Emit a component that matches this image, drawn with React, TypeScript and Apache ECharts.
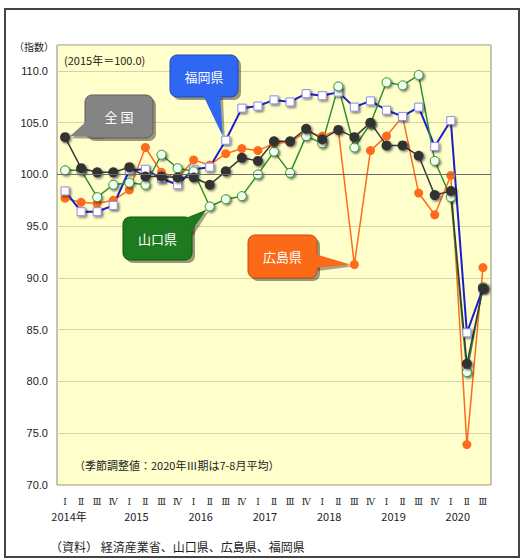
import React, { useEffect, useRef } from "react";
import * as echarts from "echarts";

const years = ["2014年", "2015", "2016", "2017", "2018", "2019", "2020"];
const quarters = ["Ⅰ", "Ⅱ", "Ⅲ", "Ⅳ"];
const quarterCount = 27;

const zenkoku = [103.6, 100.6, 100.2, 100.2, 100.7, 99.8, 99.8, 99.7, 99.7, 99.0, 100.3, 101.6, 101.3, 103.2, 103.2, 104.4, 103.4, 104.3, 103.6, 105.0, 102.8, 102.8, 101.8, 98.0, 98.4, 81.7, 89.0];
const fukuoka = [98.4, 96.4, 96.4, 97.0, 100.4, 100.5, 99.6, 99.0, 100.5, 100.7, 103.3, 106.4, 106.6, 107.2, 107.0, 107.8, 107.6, 107.95, 106.5, 107.1, 106.2, 105.6, 106.5, 102.7, 105.2, 84.7, 89.0];
const yamaguchi = [100.4, 100.4, 97.8, 99.0, 99.2, 99.0, 101.9, 100.6, 100.3, 96.9, 97.6, 97.9, 100.0, 102.2, 100.15, 103.7, 103.0, 108.5, 102.6, 104.9, 108.9, 108.6, 109.6, 101.3, 97.8, 80.9, 89.1];
const hiroshima = [97.7, 97.3, 97.2, 97.5, 98.5, 102.6, 100.2, 99.6, 101.4, 100.9, 102.0, 102.5, 102.3, 103.0, 103.1, 104.1, 103.7, 104.3, 91.3, 102.3, 103.7, 105.6, 98.2, 96.1, 99.9, 73.9, 91.0];

const yTicks = { min: 70, max: 112.5, interval: 5, labelMax: 110 };

const categories: string[] = [];
for (let i = 0; i < quarterCount; i++) {
  categories.push(years[Math.floor(i / 4)] + quarters[i % 4]);
}

const JP = "'Noto Sans CJK JP', 'Noto Sans', sans-serif";

export default function App() {
  const ref = useRef<HTMLDivElement>(null);
  useEffect(() => {
    if (!ref.current) return;
    const chart = echarts.init(ref.current, null, { renderer: "svg" });
    const shadow = {
      shadowBlur: 2,
      shadowColor: "rgba(0,0,0,0.55)",
      shadowOffsetX: 1.5,
      shadowOffsetY: 1.5,
    };
    const option: any = {
      animation: false,
      backgroundColor: "#ffffff",
      grid: {
        left: 57,
        top: 45,
        width: 434,
        height: 440,
        show: true,
        backgroundColor: "#ffffcc",
        borderColor: "#8a8a80",
        borderWidth: 1,
      },
      xAxis: {
        type: "category",
        data: categories,
        boundaryGap: true,
        axisLine: { show: false },
        axisTick: { show: false },
        splitLine: { show: false },
        axisLabel: {
          interval: 0,
          margin: 10,
          formatter: (_v: string, idx: number) => {
            const q = quarters[idx % 4];
            if (idx % 4 === 0) {
              const y = years[Math.floor(idx / 4)];
              return `{r|${q}}\n{${idx === 0 ? "y0" : "y"}|${y}}`;
            }
            return `{r|${q}}`;
          },
          rich: {
            r: { fontSize: 9, fontFamily: "'DejaVu Serif', serif", color: "#222", lineHeight: 14 },
            y: { fontSize: 11, fontFamily: JP, color: "#222", lineHeight: 14, padding: [0, 0, 0, 14] },
            y0: { fontSize: 11, fontFamily: JP, color: "#222", lineHeight: 14, padding: [0, 0, 0, 8] },
          },
        },
      },
      yAxis: {
        type: "value",
        min: yTicks.min,
        max: yTicks.max,
        interval: yTicks.interval,
        axisLine: { show: false },
        axisTick: { show: false },
        axisLabel: {
          fontSize: 11,
          fontFamily: "'Liberation Sans', Arial, sans-serif",
          color: "#222",
          margin: 9,
          showMaxLabel: false,
          formatter: (v: number) => (v > yTicks.labelMax ? "" : v.toFixed(1)),
        },
        splitLine: { show: true, lineStyle: { color: "#d8d3a6", width: 1 } },
      },
      series: [
        {
          name: "広島県",
          type: "line",
          data: hiroshima,
          symbol: "circle",
          symbolSize: 9,
          lineStyle: { color: "#ff6a1c", width: 1.5 },
          itemStyle: { color: "#ff6a1c", borderColor: "#ff6a1c", borderWidth: 0 },
          markLine: {
            silent: true,
            symbol: "none",
            label: { show: false },
            lineStyle: { color: "#6a6a6a", type: "solid", width: 1 },
            data: [{ yAxis: 100 }],
          },
        },
        {
          name: "福岡県",
          type: "line",
          data: fukuoka,
          symbol: "rect",
          symbolSize: 8,
          lineStyle: { color: "#1c1cd2", width: 2 },
          itemStyle: { color: "#ffffff", borderColor: "#8f8fe8", borderWidth: 1, ...shadow },
        },
        {
          name: "山口県",
          type: "line",
          data: yamaguchi,
          symbol: "circle",
          symbolSize: 9,
          lineStyle: { color: "#2f8f2f", width: 1.5 },
          itemStyle: { color: "#effff2", borderColor: "#2f8f2f", borderWidth: 1, ...shadow },
        },
        {
          name: "全国",
          type: "line",
          data: zenkoku,
          symbol: "circle",
          symbolSize: 10,
          lineStyle: { color: "#3a3a3a", width: 1.5 },
          itemStyle: { color: "#333333", borderColor: "#333333", borderWidth: 0, ...shadow },
        },
      ],
    };
    chart.setOption(option);

    const px = (idx: number, v: number) =>
      chart.convertToPixel({ gridIndex: 0 }, [idx, v]) as number[];

    const callout = (
      x: number, y: number, w: number, h: number,
      fill: string, stroke: string, label: string,
      b1: number[], b2: number[], tip: number[]
    ) => ({
      type: "group",
      z: 100,
      children: [
        {
          type: "polygon",
          shape: { points: [[b1[0] + 3, b1[1] + 3], [b2[0] + 3, b2[1] + 3], [tip[0] + 2, tip[1] + 2]] },
          style: { fill: "rgba(0,0,0,0.35)" },
        },
        {
          type: "rect",
          shape: { x: x + 3, y: y + 3, width: w, height: h, r: 7 },
          style: { fill: "rgba(0,0,0,0.4)" },
        },
        {
          type: "rect",
          shape: { x, y, width: w, height: h, r: 7 },
          style: { fill, stroke, lineWidth: 1 },
        },
        {
          type: "polygon",
          shape: { points: [b1, b2, tip] },
          style: { fill },
        },
        {
          type: "text",
          x: x + w / 2,
          y: y + h / 2,
          style: {
            text: label,
            fill: "#ffffff",
            font: `13px ${JP}`,
            align: "center",
            verticalAlign: "middle",
          },
        },
      ],
    });

    const pZ = px(0, zenkoku[0]);
    const pF = px(10, fukuoka[10]);
    const pY = px(9, yamaguchi[9]);
    const pH = px(18, hiroshima[18]);

    chart.setOption({
      graphic: [
        {
          type: "rect",
          shape: { x: 5, y: 9, width: 514, height: 548 },
          style: { fill: "none", stroke: "#444", lineWidth: 2 },
          z: 0,
        },
        {
          type: "text",
          x: 14,
          y: 46,
          style: { text: "（指数）", font: `10px ${JP}`, fill: "#222", verticalAlign: "middle" },
        },
        {
          type: "text",
          x: 64,
          y: 60,
          z: 50,
          style: { text: "(2015年＝100.0)", font: `11px ${JP}`, fill: "#222", verticalAlign: "middle" },
        },
        {
          type: "text",
          x: 74,
          y: 465,
          z: 50,
          style: { text: "（季節調整値：2020年Ⅲ期は7-8月平均）", font: `11px ${JP}`, fill: "#222", verticalAlign: "middle" },
        },
        {
          type: "text",
          x: 50,
          y: 546,
          style: { text: "（資料） 経済産業省、山口県、広島県、福岡県", font: `12px ${JP}`, fill: "#222", verticalAlign: "middle" },
        },
        callout(85, 95, 68, 43, "#848484", "#5e5e5e", "全 国", [90, 118], [102, 136], [pZ[0] + 5, pZ[1] - 1]),
        callout(170, 55, 68, 42, "#2f66f2", "#1d47b8", "福岡県", [203, 95], [220, 95], [pF[0] - 3, pF[1] - 4]),
        callout(123, 217, 69, 43, "#1e7a1e", "#135013", "山口県", [183, 219], [190, 233], [pY[0] - 3, pY[1] + 3]),
        callout(248, 235, 69, 43, "#fb6a16", "#c54c08", "広島県", [315, 254], [315, 268], [pH[0] - 4, pH[1]]),
      ],
    });

    return () => chart.dispose();
  }, []);
  return (
    <div
      ref={ref}
      style={{ position: "absolute", left: 0, top: 0, width: 521, height: 560 }}
    />
  );
}
